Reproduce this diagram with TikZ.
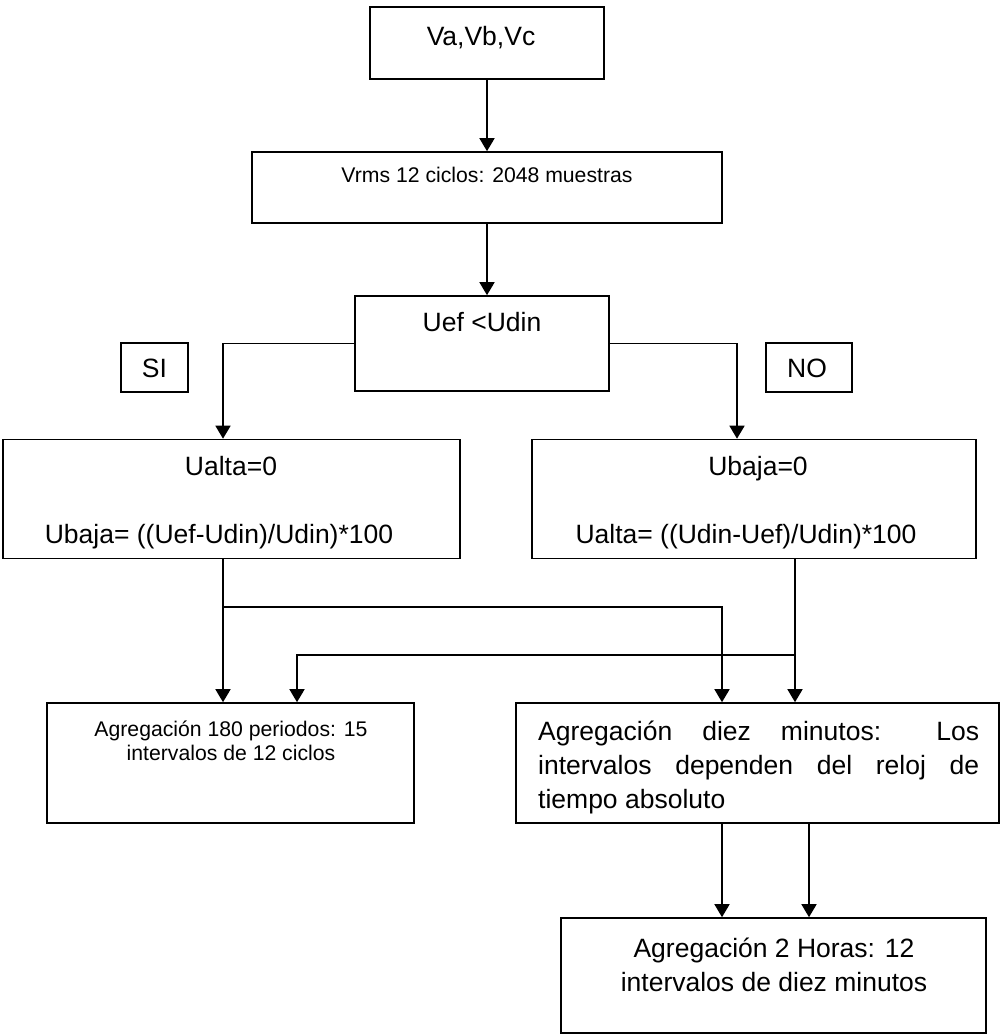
\documentclass[tikz,border=0pt]{standalone}
\usepackage{fontspec}
\setmainfont{Liberation Sans}
\usetikzlibrary{arrows.meta}
\begin{document}
\begin{tikzpicture}[x=1pt,y=-1pt,
  box/.style={draw,line width=1.6pt,inner sep=0pt,rectangle},
  arr/.style={line width=1.6pt,-{Triangle[width=15pt,length=13pt]}},
  big/.style={font=\fontsize{26.5}{30}\selectfont,inner sep=0pt,anchor=base},
  small/.style={font=\fontsize{21.2}{24}\selectfont,inner sep=0pt,anchor=base}]
\fill[white] (0,0) rectangle (1001,1036);
\useasboundingbox (0,0) rectangle (1001,1036);

% boxes
\node[box,minimum width=234pt,minimum height=72pt] (b1) at (487,43) {};
\node[box,minimum width=470pt,minimum height=71pt] (b2) at (487,187.5) {};
\node[box,minimum width=254pt,minimum height=95pt] (b3) at (482,343.5) {};
\node[box,minimum width=67pt,minimum height=49pt] (si) at (154.5,367.5) {};
\node[box,minimum width=86pt,minimum height=49pt] (no) at (809,367.5) {};
\node[box,minimum width=457pt,minimum height=119pt] (L) at (231.5,499) {};
\node[box,minimum width=444pt,minimum height=119pt] (R) at (754,499) {};
\node[box,minimum width=367pt,minimum height=120pt] (A) at (230.5,763) {};
\node[box,minimum width=483pt,minimum height=120pt] (D) at (757.5,763) {};
\node[box,minimum width=425pt,minimum height=115pt] (H) at (773.5,975.5) {};

% texts
\node[big] (t1) at (481,45) {Va,Vb,Vc};
\node[small] (t2) at (487,182) {Vrms 12 ciclos: 2048 muestras};
\node[big] (t3) at (482,331) {Uef <Udin};
\node[big] (tsi) at (154.5,377) {SI};
\node[big] (tno) at (807,377) {NO};
\node[big] (tl1) at (231,475) {Ualta=0};
\node[big] (tl2) at (219,543) {Ubaja= ((Uef-Udin)/Udin)*100};
\node[big] (tr1) at (758,475) {Ubaja=0};
\node[big] (tr2) at (746,543) {Ualta= ((Udin-Uef)/Udin)*100};
\node[small] (ta1) at (231,736) {Agregación 180 periodos: 15};
\node[small] (ta2) at (231,760) {intervalos de 12 ciclos};
\node[big,anchor=base west] (td1) at (538,740) {\makebox[441pt][s]{Agregación diez minutos: Los}};
\node[big,anchor=base west] (td2) at (538,774) {\makebox[441pt][s]{intervalos dependen del reloj de}};
\node[big,anchor=base west] (td3) at (538,808) {tiempo absoluto};
\node[big] (th1) at (774,957) {Agregación 2 Horas: 12};
\node[big] (th2) at (774,991) {intervalos de diez minutos};

% junctions on the lower connectors
\coordinate (j1) at (223,607);
\coordinate (j2) at (795,655);

% connectors
\draw[arr] (b1.south) -- (b2.north);
\draw[arr] (b2.south) -- (b2.south |- b3.north);
\draw[arr] (b3.west) -| ([xshift=-8.5pt]L.north);
\draw[arr] (b3.east) -| ([xshift=-17pt]R.north);
\draw[arr] ([xshift=-8.5pt]L.south) -- ([xshift=-8.5pt]L.south |- A.north);
\draw[arr] (j1) -| ([xshift=-35.5pt]D.north);
\draw[arr] ([xshift=41pt]R.south) -- ([xshift=41pt]R.south |- D.north);
\draw[arr] (j2) -| ([xshift=66.5pt]A.north);
\draw[arr] ([xshift=-35.5pt]D.south) -- ([xshift=-35.5pt]D.south |- H.north);
\draw[arr] ([xshift=51.5pt]D.south) -- ([xshift=51.5pt]D.south |- H.north);
\end{tikzpicture}
\end{document}
